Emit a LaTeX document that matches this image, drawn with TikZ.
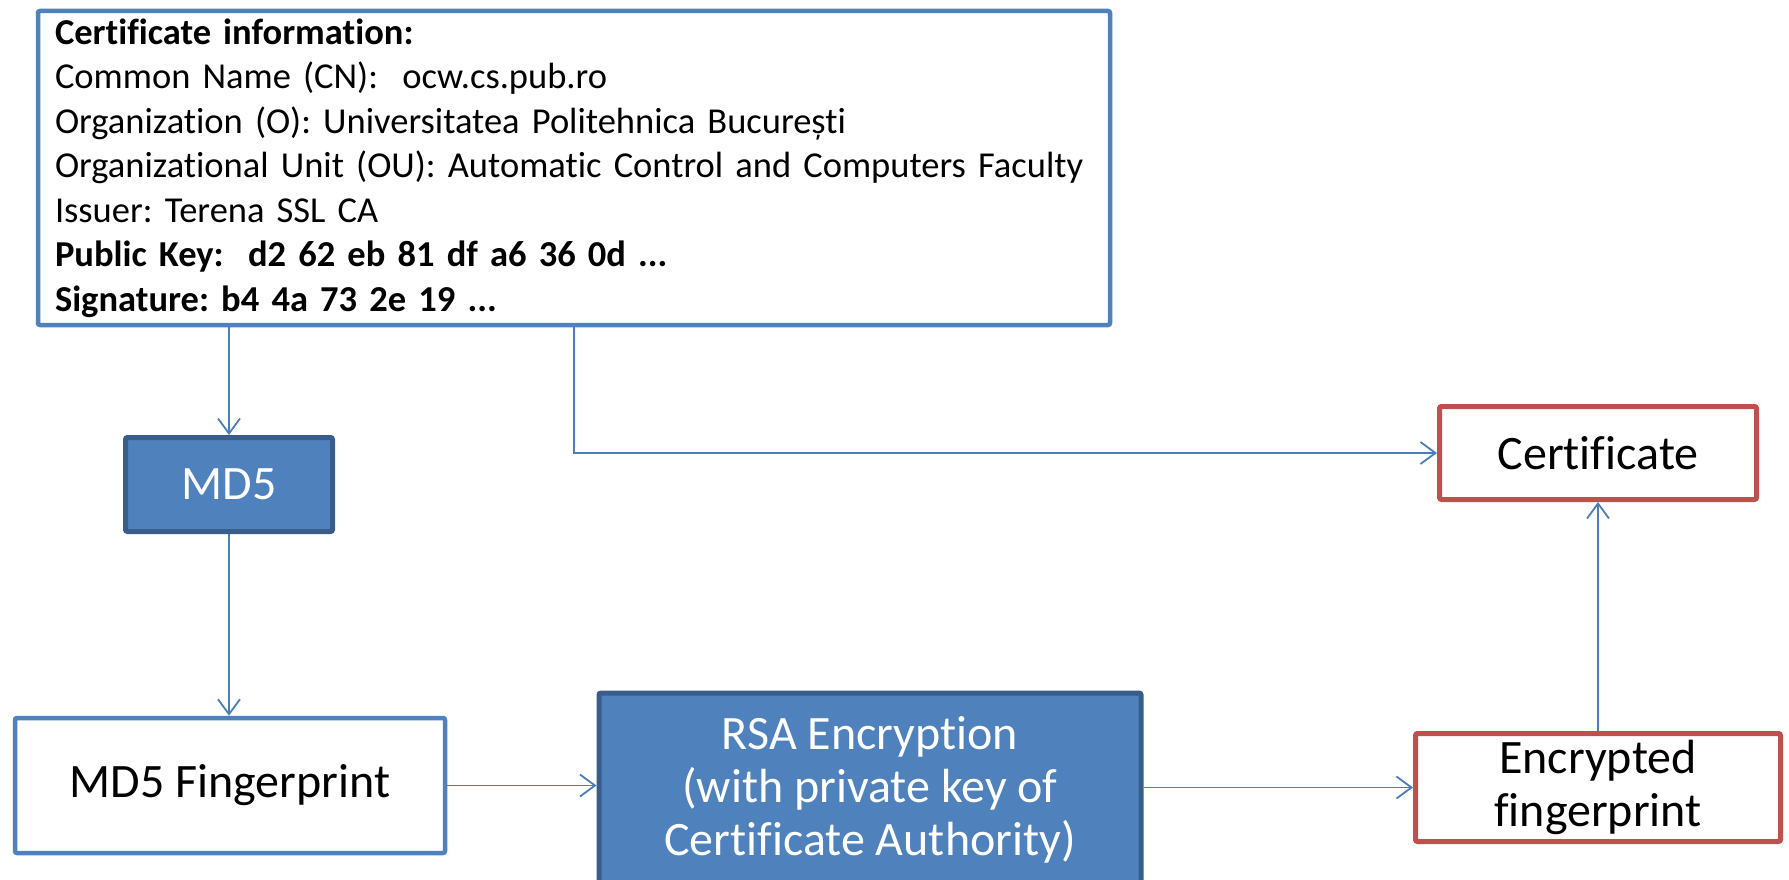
\documentclass[tikz,border=0pt]{standalone}
\usepackage{fontspec}
\setmainfont{Carlito}[RawFeature={-liga,-clig,-calt,-dlig}]
\frenchspacing
\usetikzlibrary{arrows.meta}
\definecolor{accblue}{HTML}{4F81BD}
\definecolor{darkblue}{HTML}{385D8A}
\definecolor{linkblue}{HTML}{4A7EBB}
\definecolor{accred}{HTML}{C0504D}
\tikzset{
  box/.style={draw, rounded corners=2pt, inner sep=0pt, align=center},
  whitebox/.style={box, draw=accblue, line width=4.5pt, fill=white},
  bluebox/.style={box, draw=darkblue, line width=5pt, fill=accblue, text=white},
  redbox/.style={box, draw=accred, line width=5pt, fill=white},
  link/.style={draw=linkblue, line width=1.8pt,
    -{Straight Barb[length=15pt,width=22pt,line width=1.8pt]}},
  bigtext/.style={font=\fontsize{48}{53}\selectfont},
}
\begin{document}
\begin{tikzpicture}[x=1pt,y=-1pt]
\useasboundingbox (0,0) rectangle (1789,880);
\clip (0,0) rectangle (1789,880);

% certificate data
\node[whitebox, minimum width=1072, minimum height=314, text width=1038,
      align=left, font=\fontsize{36.5}{44.5}\selectfont] (info) at (574,168)
{\textbf{Certificate information:}\\
Common Name (CN):\ \ ocw.cs.pub.ro\\
Organization (O): Universitatea Politehnica București\\
Organizational Unit (OU): Automatic Control and Computers Faculty\\
Issuer: Terena SSL CA\\
\textbf{Public Key:\ \ d2 62 eb 81 df a6 36 0d ...}\\
\textbf{Signature: b4 4a 73 2e 19 ...}};

% processing steps
\node[bluebox, bigtext, minimum width=207, minimum height=94] (md5) at (229,484.5) {MD5};
\node[whitebox, bigtext, minimum width=430, minimum height=135] (fp) at (230,785.5) {MD5 Fingerprint};
\node[bluebox, bigtext, minimum width=542, minimum height=194] (rsa) at (870,790)
  {RSA Encryption\\(with private key of\\Certificate Authority)};
\node[redbox, bigtext, minimum width=365, minimum height=108] (enc) at (1598,787.5)
  {Encrypted\\fingerprint};
\node[redbox, bigtext, minimum width=317, minimum height=93] (cert) at (1598,453) {Certificate};

% data flow
\draw[link] (md5.north |- info.south) -- (md5.north);
\draw[link] (md5.south) -- (md5.south |- fp.north);
\draw[link] (fp.east) -- (fp.east -| rsa.west);
\draw[link] (enc.west -| rsa.east) -- (enc.west);
\draw[link] (enc.north) -- (cert.south);
\draw[link] (info.south) -- (info.south |- cert.west) -- (cert.west);
\end{tikzpicture}
\end{document}
